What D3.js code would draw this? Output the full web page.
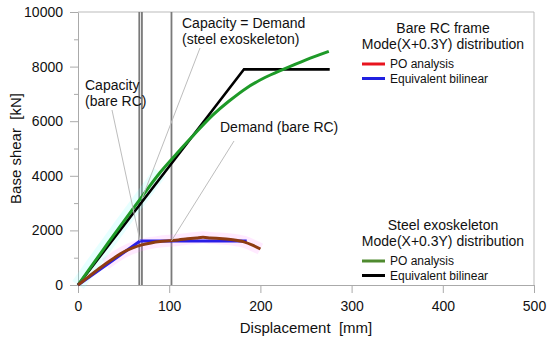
<!DOCTYPE html>
<html>
<head>
<meta charset="utf-8">
<script src="https://cdn.jsdelivr.net/npm/d3@7"></script>
<style>
  body { margin: 0; background: #fff; }
  text { font-family: Arial, "Liberation Sans", sans-serif; fill: #111; }
</style>
</head>
<body>
<div id="chart"></div>
<script>
// ---- data ----
var xTicks = [0, 100, 200, 300, 400, 500];
var yTicks = [0, 2000, 4000, 6000, 8000, 10000];
var yMinor = [1000, 3000, 5000, 7000, 9000];

// bare RC frame
var rcPoX = [0, 10, 20, 30, 40, 50, 60, 70, 80, 90, 100, 110, 120, 130, 137, 145, 155, 165, 175, 182, 192, 200];
var rcPoY = [0, 260, 520, 770, 1000, 1210, 1360, 1470, 1540, 1590, 1620, 1650, 1690, 1725, 1745, 1725, 1700, 1680, 1630, 1580, 1450, 1320];
var rcBiX = [0, 68, 185];
var rcBiY = [0, 1610, 1610];

// steel exoskeleton
var exPoX = [0, 25, 50, 70, 90, 112, 125, 148, 165, 185, 205, 225, 250, 275];
var exPoY = [0, 1170, 2320, 3230, 4120, 4950, 5430, 6230, 6720, 7220, 7600, 7900, 8250, 8560];
var exBiX = [0, 182, 276];
var exBiY = [0, 7900, 7900];

// vertical markers [mm]
var markers = [67.2, 70.1, 102.5];

var W = 550, H = 340;
var mLeft = 78, mRight = 534, mTop = 12, mBottom = 285;

var svg = d3.select("#chart").append("svg").attr("width", W).attr("height", H);

var x = d3.scaleLinear().domain([0, 500]).range([mLeft, mRight]);
var y = d3.scaleLinear().domain([0, 10000]).range([mBottom, mTop]);

function pts(xs, ys) {
	return xs.map(function(d, i) { return [d, ys[i]]; });
}
var line = d3.line().x(function(d) { return x(d[0]); }).y(function(d) { return y(d[1]); });
var smooth = d3.line().curve(d3.curveCatmullRom).x(function(d) { return x(d[0]); }).y(function(d) { return y(d[1]); });

// frame
svg.append("line").attr("x1", mLeft).attr("x2", mRight).attr("y1", mTop).attr("y2", mTop).attr("stroke", "#bbb");
svg.append("line").attr("x1", mRight).attr("x2", mRight).attr("y1", mTop).attr("y2", mBottom).attr("stroke", "#bbb");

// axes
svg.append("g").attr("transform", "translate(0," + mBottom + ")")
	.call(d3.axisBottom(x).tickValues(xTicks).tickFormat(d3.format("d")).tickSize(8).tickSizeOuter(0).tickPadding(8));
svg.append("g").attr("transform", "translate(" + mLeft + ",0)")
	.call(d3.axisLeft(y).tickValues(yTicks).tickFormat(d3.format("d")).tickSize(8).tickSizeOuter(0).tickPadding(7));
svg.append("g").attr("transform", "translate(" + mLeft + ",0)")
	.call(d3.axisLeft(y).tickValues(yMinor).tickSize(4).tickFormat(""))
	.select(".domain").remove();
svg.selectAll(".domain, .tick line").attr("stroke", "#aaa");
svg.selectAll(".tick text").style("font-size", "14px").attr("fill", "#111");

svg.append("text").attr("x", (mLeft + mRight) / 2).attr("y", 333)
	.attr("text-anchor", "middle").style("font-size", "15px").style("white-space", "pre")
	.text("Displacement  [mm]");
svg.append("text").attr("transform", "translate(21," + ((mTop + mBottom) / 2) + ") rotate(-90)")
	.attr("text-anchor", "middle").style("font-size", "15px").style("white-space", "pre")
	.text("Base shear  [kN]");

// vertical marker lines
svg.selectAll(".marker").data(markers).enter().append("line")
	.attr("x1", function(d) { return x(d); }).attr("x2", function(d) { return x(d); })
	.attr("y1", y(0)).attr("y2", y(10000))
	.attr("stroke", "#7a7a7a").attr("stroke-width", 1.8);

// faint halos
svg.append("path").attr("d", smooth(pts(rcPoX, rcPoY).slice(3)))
	.attr("fill", "none").attr("stroke", "#ff88ff").attr("stroke-opacity", 0.18).attr("stroke-width", 12);
svg.append("path").attr("d", smooth(pts(exPoX, exPoY).slice(0, 5)))
	.attr("fill", "none").attr("stroke", "#88ffff").attr("stroke-opacity", 0.2).attr("stroke-width", 14);

// curves
svg.append("path").attr("d", line(pts(exBiX, exBiY)))
	.attr("fill", "none").attr("stroke", "#000").attr("stroke-width", 2.6);
svg.append("path").attr("d", smooth(pts(exPoX, exPoY)))
	.attr("fill", "none").attr("stroke", "#1e9a28").attr("stroke-width", 3);
svg.append("path").attr("d", line(pts(rcBiX, rcBiY)))
	.attr("fill", "none").attr("stroke", "#2a1ee6").attr("stroke-width", 3);
svg.append("path").attr("d", smooth(pts(rcPoX, rcPoY)))
	.attr("fill", "none").attr("stroke", "#8e3c12").attr("stroke-width", 3);

// annotations
var leaders = [
	[[112, 110], [x(68), y(1610)]],
	[[200, 48], [x(70), y(3150)]],
	[[234, 141], [x(102.5), y(1620)]]
];
svg.selectAll(".leader").data(leaders).enter().append("line")
	.attr("x1", function(d) { return d[0][0]; }).attr("y1", function(d) { return d[0][1]; })
	.attr("x2", function(d) { return d[1][0]; }).attr("y2", function(d) { return d[1][1]; })
	.attr("stroke", "#bdbdbd").attr("stroke-width", 1);

var notes = [
	{ t: "Capacity", px: 85, py: 90 },
	{ t: "(bare RC)", px: 85, py: 106 },
	{ t: "Capacity = Demand", px: 182, py: 28 },
	{ t: "(steel exoskeleton)", px: 182, py: 44 },
	{ t: "Demand (bare RC)", px: 220, py: 132 }
];
svg.selectAll(".note").data(notes).enter().append("text")
	.attr("x", function(d) { return d.px; }).attr("y", function(d) { return d.py; })
	.style("font-size", "14px").text(function(d) { return d.t; });

// legends
function legend(title, items, ty) {
	var g = svg.append("g");
	g.append("text").attr("x", 443).attr("y", ty).attr("text-anchor", "middle").style("font-size", "14px").text(title[0]);
	g.append("text").attr("x", 443).attr("y", ty + 16).attr("text-anchor", "middle").style("font-size", "14px").text(title[1]);
	items.forEach(function(it, i) {
		var yy = ty + 31 + i * 14.5;
		g.append("line").attr("x1", 362).attr("x2", 385).attr("y1", yy).attr("y2", yy)
			.attr("stroke", it.c).attr("stroke-width", 3);
		g.append("text").attr("x", 390).attr("y", yy + 4).style("font-size", "12px").text(it.t);
	});
}
legend(["Bare RC frame", "Mode(X+0.3Y) distribution"],
	[{ t: "PO analysis", c: "#e8141e" }, { t: "Equivalent bilinear", c: "#2020e0" }], 33);
legend(["Steel exoskeleton", "Mode(X+0.3Y) distribution"],
	[{ t: "PO analysis", c: "#4f8a2f" }, { t: "Equivalent bilinear", c: "#000" }], 230);
</script>
</body>
</html>
